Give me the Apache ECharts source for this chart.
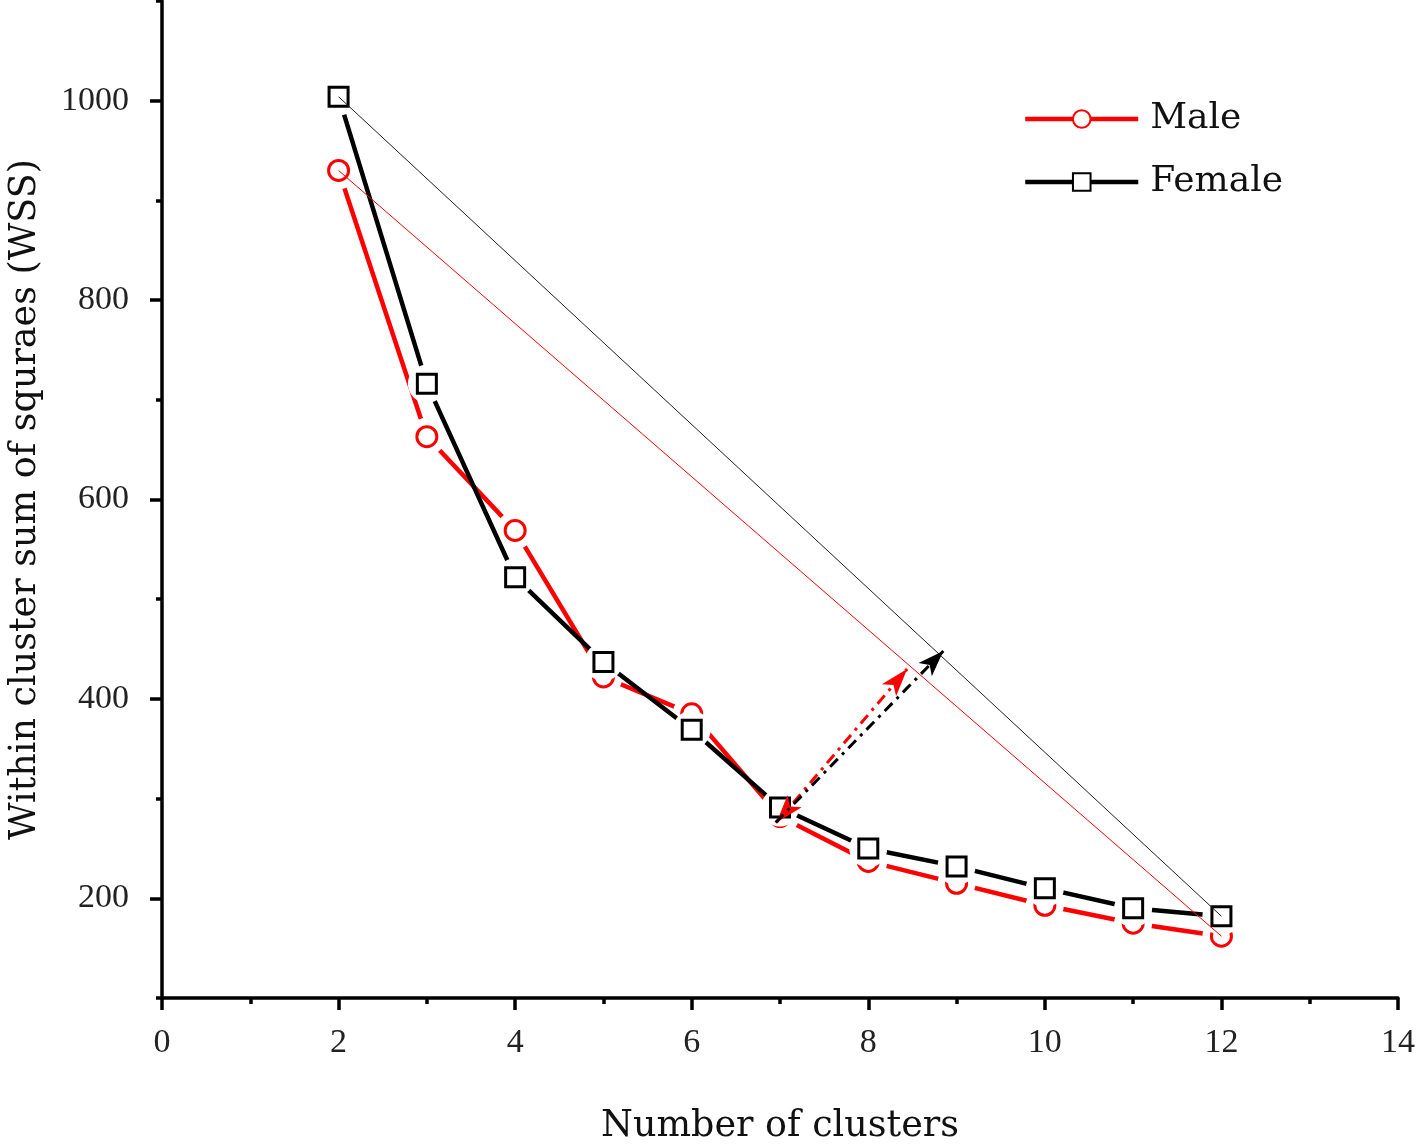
<!DOCTYPE html>
<html>
<head>
<meta charset="utf-8">
<script src="https://cdn.jsdelivr.net/npm/echarts@6/dist/echarts.min.js"></script>
<style>
html,body{margin:0;padding:0;background:#fff;}
#chart{width:1416px;height:1145px;}
</style>
</head>
<body>
<div id="chart"></div>
<script>
// ---- data ----
var clusters = [2, 3, 4, 5, 6, 7, 8, 9, 10, 11, 12];
var maleWSS = [930, 663, 569, 422, 385, 282, 237, 215, 193, 175, 162];
var femaleWSS = [1004, 716, 522, 437, 369, 291, 250, 232, 210, 190, 182];
var yLabelValues = [200, 400, 600, 800, 1000];
var yMinorValues = [100, 300, 500, 700, 900, 1100];
// arrow endpoints [x, y] in data units
var maleArrow = [[6.96, 276], [8.44, 430]];
var femaleArrow = [[6.95, 276], [8.85, 448]];

function pairs(xs, ys) { return xs.map(function (x, i) { return [x, ys[i]]; }); }
var malePts = pairs(clusters, maleWSS);
var femalePts = pairs(clusters, femaleWSS);
var maleChord = [malePts[0], malePts[malePts.length - 1]];
var femaleChord = [femalePts[0], femalePts[femalePts.length - 1]];

var RED = '#ff0000', BLACK = '#000000';
var tickFont = 'Liberation Serif';
var nameFont = 'DejaVu Serif';

var chart = echarts.init(document.getElementById('chart'));
chart.setOption({
  animation: false,
  backgroundColor: '#ffffff',
  grid: { left: 162, right: 18, top: 1, bottom: 147, containLabel: false, outerBoundsMode: 'none' },
  legend: {
    data: ['Male', 'Female'],
    orient: 'vertical',
    left: 1018, top: 96, itemWidth: 113, itemHeight: 22, itemGap: 27,
    lineStyle: { width: 4.5 },
    textStyle: { fontFamily: nameFont, fontSize: 36, color: '#111', padding: [0, 0, 0, 7] }
  },
  xAxis: {
    type: 'value', min: 0, max: 14, interval: 2,
    name: 'Number of clusters', nameLocation: 'middle', nameGap: 110,
    nameTextStyle: { fontFamily: nameFont, fontSize: 36.5, color: '#111' },
    axisLine: { show: true, onZero: false, lineStyle: { color: BLACK, width: 3.5 } },
    axisTick: { show: true, inside: false, length: 12, lineStyle: { color: BLACK, width: 3.5 } },
    minorTick: { show: true, splitNumber: 2, length: 6, lineStyle: { color: BLACK, width: 3.5 } },
    splitLine: { show: false }, minorSplitLine: { show: false },
    axisLabel: { margin: 28, fontFamily: tickFont, fontSize: 34, color: '#222' }
  },
  yAxis: [{
    type: 'value', min: 100, max: 1100, interval: 100, position: 'left',
    name: 'Within cluster sum of squraes (WSS)', nameLocation: 'middle', nameGap: 118,
    nameTextStyle: { fontFamily: nameFont, fontSize: 36.5, color: '#111' },
    axisLine: { show: true, onZero: false, lineStyle: { color: BLACK, width: 3.5 } },
    axisTick: { show: true, inside: false, length: 12, customValues: yLabelValues, lineStyle: { color: BLACK, width: 3.5 } },
    splitLine: { show: false },
    axisLabel: { margin: 33, customValues: yLabelValues, fontFamily: tickFont, fontSize: 34, color: '#222',
      formatter: function (v) { return String(v); } }
  }, {
    type: 'value', min: 100, max: 1100, interval: 100, position: 'left', offset: 0,
    axisLine: { show: false },
    axisTick: { show: true, inside: false, length: 6, customValues: yMinorValues, lineStyle: { color: BLACK, width: 3.5 } },
    axisLabel: { show: false }, splitLine: { show: false }
  }],
  series: [
    { name: 'Male', type: 'line', data: malePts, z: 3,
      symbol: 'circle', symbolSize: 20, showSymbol: true,
      lineStyle: { color: RED, width: 4.5 },
      itemStyle: { color: '#fff', borderColor: RED, borderWidth: 3 } },
    { name: 'maleGap', type: 'scatter', data: malePts, z: 4, silent: true,
      symbol: 'circle', symbolSize: 38, itemStyle: { color: '#ffffff', opacity: 1 } },
    { name: 'maleMark', type: 'scatter', data: malePts, z: 5, silent: true,
      symbol: 'circle', symbolSize: 20,
      itemStyle: { color: '#fff', borderColor: RED, borderWidth: 3, opacity: 1 } },
    { name: 'Female', type: 'line', data: femalePts, z: 6,
      symbol: 'rect', symbolSize: 19, showSymbol: true,
      lineStyle: { color: BLACK, width: 4.5 },
      itemStyle: { color: '#fff', borderColor: BLACK, borderWidth: 3 } },
    { name: 'femaleGap', type: 'scatter', data: femalePts, z: 7, silent: true,
      symbol: 'circle', symbolSize: 38, itemStyle: { color: '#ffffff', opacity: 1 } },
    { name: 'femaleMark', type: 'scatter', data: femalePts, z: 8, silent: true,
      symbol: 'rect', symbolSize: 19,
      itemStyle: { color: '#fff', borderColor: BLACK, borderWidth: 3, opacity: 1 } },
    { name: 'maleChord', type: 'line', data: maleChord, z: 10, silent: true,
      symbol: 'none', lineStyle: { color: RED, width: 1 },
      markLine: { silent: true, animation: false, z: 20,
        symbol: ['arrow', 'arrow'], symbolSize: [14, 28], label: { show: false },
        lineStyle: { color: RED, width: 3, type: [11, 6, 3, 6] },
        data: [[{ coord: maleArrow[0] }, { coord: maleArrow[1] }]] } },
    { name: 'femaleChord', type: 'line', data: femaleChord, z: 10, silent: true,
      symbol: 'none', lineStyle: { color: '#222', width: 1 },
      markLine: { silent: true, animation: false, z: 20,
        symbol: ['none', 'arrow'], symbolSize: [14, 26], label: { show: false },
        lineStyle: { color: BLACK, width: 3, type: [11, 6, 3, 6] },
        data: [[{ coord: femaleArrow[0] }, { coord: femaleArrow[1] }]] } }
  ]
});
</script>
</body>
</html>
